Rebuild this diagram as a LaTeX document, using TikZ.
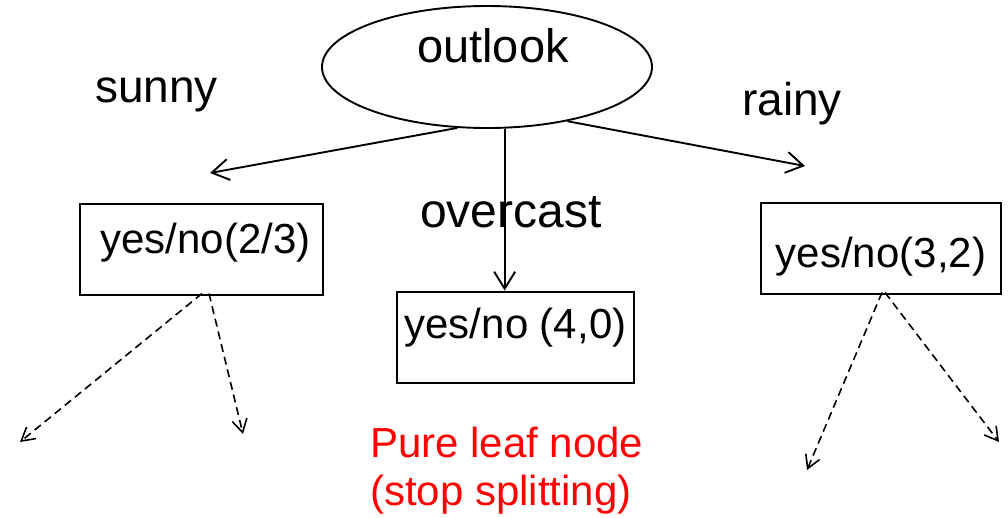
\documentclass[tikz,border=0pt]{standalone}
\usepackage{fontspec}
\setmainfont{Liberation Sans}
\usetikzlibrary{shapes.geometric,arrows.meta}
\begin{document}
\begin{tikzpicture}[x=1pt,y=-1pt,
  lbl/.style={inner sep=0pt,anchor=base west,font=\fontsize{46}{52}\selectfont},
  red lbl/.style={inner sep=0pt,anchor=base west,text=red,font=\fontsize{42}{48}\selectfont},
  leafbox/.style={draw,line width=2pt,inner sep=0pt,font=\fontsize{42}{48}\selectfont,minimum height=91pt},
  edge/.style={line width=1.9pt,-{Straight Barb[length=17pt,width=21pt,line width=1.9pt]}},
  dedge/.style={line width=1.6pt,dash pattern=on 8pt off 5pt,-{Straight Barb[length=13pt,width=15pt,line width=1.6pt]}}]
\useasboundingbox (0,0) rectangle (1008,517);
% root
\node[draw,ellipse,line width=1.9pt,minimum width=330pt,minimum height=122pt,inner sep=0pt] (root) at (487,67) {};
\node[lbl,font=\fontsize{47}{52}\selectfont] (roottxt) at (417,62) {outlook};
% branch labels
\node[lbl] (sunny) at (95,102) {sunny};
\node[lbl] (rainy) at (742,115) {rainy};
\node[lbl,font=\fontsize{48}{52}\selectfont] (overcast) at (420,227) {overcast};
% boxes
\node[leafbox,minimum width=243pt,text height=30pt,text depth=22pt] (boxL) at (201.5,249) {\hspace{8pt}yes/no(2/3)};
\node[leafbox,minimum width=237pt,text height=26pt,text depth=24pt] (boxM) at (515.5,337) {yes/no (4,0)};
\node[leafbox,minimum width=240pt,text height=40pt,text depth=2pt] (boxR) at (881,248) {yes/no(3,2)};
% red note
\node[red lbl] (pure) at (370,457) {Pure leaf node};
\node[red lbl] (stop) at (370,505) {(stop splitting)};
% free ends
\coordinate (sunnyend) at (210,173);
\coordinate (rainyend) at (805,166);
\coordinate (dL1) at (20,442);
\coordinate (dL2) at (243,434);
\coordinate (dR1) at (807,470);
\coordinate (dR2) at (999,442);
% connectors
\draw[edge] (root.244) -- (sunnyend);
\draw[edge] (root.-34.7) -- (rainyend);
\draw[edge] (root.-74.4) -- (root.-74.4 |- boxM.north);
\draw[dedge] ([xshift=0.5pt,yshift=2pt]boxL.south) -- (dL1);
\draw[dedge] ([xshift=7.5pt,yshift=2pt]boxL.south) -- (dL2);
\draw[dedge] ([xshift=1pt,yshift=2pt]boxR.south) -- (dR1);
\draw[dedge] ([xshift=4pt,yshift=2pt]boxR.south) -- (dR2);
\end{tikzpicture}
\end{document}
